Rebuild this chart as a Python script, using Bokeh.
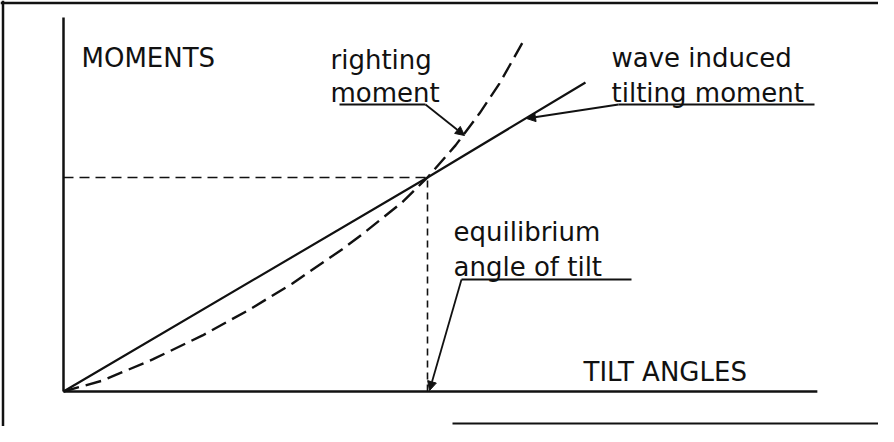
from bokeh.plotting import figure
from bokeh.models import Range1d, Label, Arrow, NormalHead, Span
from bokeh.embed import file_html
from bokeh.resources import INLINE

# ---------------- data (tilt angle, moment), equilibrium normalised to (1, 1) ----------------
righting_x = [0.0, 0.107, 0.245, 0.382, 0.511, 0.629, 0.766, 0.821, 0.931, 1.0, 1.077, 1.143, 1.198, 1.261]
righting_y = [0.0, 0.051, 0.150, 0.262, 0.383, 0.505, 0.665, 0.735, 0.885, 1.0, 1.150, 1.300, 1.440, 1.630]
tilting_x = [0.0, 1.0, 1.434]
tilting_y = [0.0, 1.0, 1.444]
equilibrium_x = 1.0
equilibrium_y = 1.0
axis_x_end = 2.071
axis_y_end = 1.748

labels_y_axis = "MOMENTS"
labels_x_axis = "TILT ANGLES"
label_righting = ["righting", "moment"]
label_tilting = ["wave induced", "tilting moment"]
label_equil = ["equilibrium", "angle of tilt"]

# ---------------- layout ----------------
W, H = 878, 426
OX, OY = 63, 391          # origin inside the figure (px from left / top)
SX, SY = 364.0, 214.0     # px per data unit

def dx(px):  # page px -> data x
    return (px - 8 - OX) / SX

def dy(py):  # page py -> data y
    return (OY - (py - 8)) / SY

p = figure(width=W, height=H, output_backend="svg", toolbar_location=None,
           x_axis_type=None, y_axis_type=None, min_border=0,
           x_range=Range1d(-OX / SX, (W - OX) / SX),
           y_range=Range1d(-(H - OY) / SY, OY / SY))
p.grid.visible = False
p.outline_line_color = None
p.background_fill_color = "white"
p.border_fill_color = "white"

INK = "#111111"

# frame (scan border)
p.add_layout(Span(location=dx(10.5), dimension="height", line_color=INK, line_width=2.5))
p.add_layout(Span(location=dy(10.5), dimension="width", line_color=INK, line_width=2.5))
p.line([dx(460), dx(894)], [dy(431), dy(431)], line_color=INK, line_width=2)

# axes
p.line([0, 0], [0, axis_y_end], line_color=INK, line_width=2.5)
p.line([0, axis_x_end], [0, 0], line_color=INK, line_width=2.5)

# equilibrium guides
p.line([0, equilibrium_x], [equilibrium_y, equilibrium_y], line_color=INK,
       line_width=1.6, line_dash="10 6")
p.line([equilibrium_x, equilibrium_x], [0, equilibrium_y], line_color=INK,
       line_width=1.6, line_dash="7 5")

# curves
p.line(tilting_x, tilting_y, line_color=INK, line_width=2.2)
p.line(righting_x, righting_y, line_color=INK, line_width=2.4, line_dash="16 7")

FONT = "DejaVu Sans"
FS = "26px"

def txt(s, px, py):
    p.add_layout(Label(x=dx(px), y=dy(py), text=s, text_font=FONT, text_font_size=FS,
                       text_color=INK, text_baseline="alphabetic", text_align="left"))

txt(labels_y_axis, 89, 65)
txt(labels_x_axis, 591, 379)
txt(label_righting[0], 338, 67)
txt(label_righting[1], 338, 100)
txt(label_tilting[0], 619, 65)
txt(label_tilting[1], 619, 100)
txt(label_equil[0], 461, 239)
txt(label_equil[1], 461, 274)

# leaders: underline + arrow
def leader(u0, u1, uy, start, tip):
    p.line([dx(u0), dx(u1)], [dy(uy), dy(uy)], line_color=INK, line_width=1.8)
    p.add_layout(Arrow(x_start=dx(start[0]), y_start=dy(start[1]),
                       x_end=dx(tip[0]), y_end=dy(tip[1]),
                       line_color=INK, line_width=1.8,
                       end=NormalHead(size=9, fill_color=INK, line_color=INK)))

leader(347, 433, 112, (433, 112), (472, 143))
leader(626, 822, 112, (626, 112), (534, 126))
leader(469, 639, 287, (469, 287), (437, 398))

open("out.html", "w").write(file_html(p, INLINE))
